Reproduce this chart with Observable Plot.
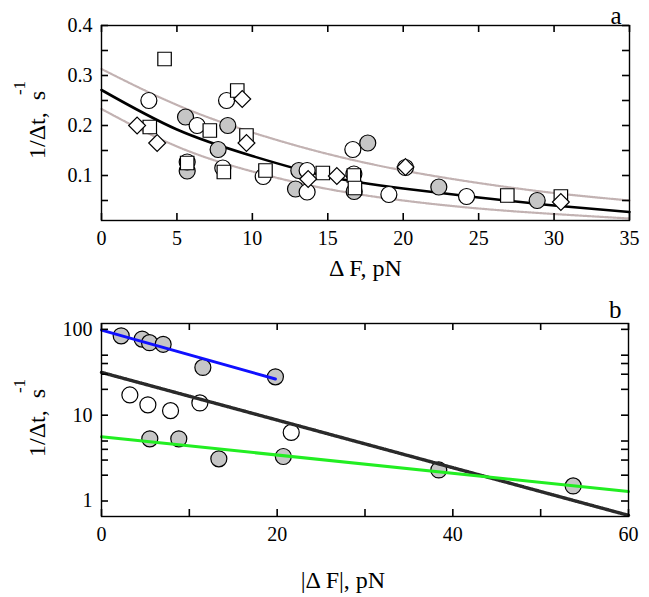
<!DOCTYPE html>
<html><head><meta charset="utf-8">
<script src="https://cdn.jsdelivr.net/npm/d3@7"></script>
<script src="https://cdn.jsdelivr.net/npm/@observablehq/plot@0.6"></script>
<style>body{margin:0;background:#fff} #chart svg{display:block}</style>
</head><body><div id="chart"></div>
<script>
// ---------- Panel a data ----------
const grayA_x = [5.57, 5.68, 8.37, 7.73, 13.08, 12.86, 17.65, 22.36, 28.88, 16.75];
const grayA_y = [0.217, 0.109, 0.200, 0.152, 0.110, 0.073, 0.165, 0.077, 0.050, 0.068];
const openA_x = [3.14, 6.34, 8.29, 8.04, 10.72, 13.63, 13.63, 16.66, 16.73, 19.05, 24.2, 5.68, 20.15];
const openA_y = [0.250, 0.200, 0.250, 0.115, 0.098, 0.110, 0.067, 0.152, 0.103, 0.062, 0.058, 0.127, 0.116];
const squareA_x = [4.18, 3.20, 7.18, 5.68, 9.00, 8.11, 9.61, 10.87, 14.67, 16.73, 16.80, 26.9, 30.45];
const squareA_y = [0.333, 0.197, 0.190, 0.125, 0.270, 0.107, 0.180, 0.110, 0.105, 0.100, 0.075, 0.060, 0.058];
const diamondA_x = [2.36, 3.69, 9.33, 9.61, 13.70, 15.6, 20.15, 30.45];
const diamondA_y = [0.200, 0.165, 0.253, 0.165, 0.093, 0.099, 0.117, 0.047];
const fitA_x = [0, 5, 10, 15, 20, 25, 30, 35];
const fitA_y = [0.271, 0.192, 0.139, 0.098, 0.074, 0.056, 0.040, 0.027];
const upperA_y = [0.313, 0.241, 0.186, 0.143, 0.110, 0.085, 0.065, 0.050];
const lowerA_y = [0.233, 0.158, 0.108, 0.073, 0.050, 0.034, 0.023, 0.014];
const xTicksA = [0, 5, 10, 15, 20, 25, 30, 35];
const yTicksA = [0.05, 0.1, 0.15, 0.2, 0.25, 0.3, 0.35, 0.4];
const yLabelsA = [0.1, 0.2, 0.3, 0.4];

// ---------- Panel b data ----------
const grayB_x = [2.24, 4.63, 5.47, 7.02, 11.54, 19.8, 5.5, 8.8, 13.36, 20.7, 38.4, 53.7];
const grayB_y = [84, 77, 70, 67, 36, 28, 5.3, 5.3, 3.1, 3.3, 2.3, 1.5];
const openB_x = [3.23, 5.28, 7.86, 11.2, 21.6];
const openB_y = [17.2, 13.2, 11.3, 13.9, 6.3];
const blueB_x = [0, 19.8];
const blueB_y = [98, 26.4];
const dotB_x = [0, 60];
const dotB_y = [31.5, 0.68];
const greenB_x = [0, 60];
const greenB_y = [5.6, 1.29];
const xTicksB = [0, 10, 20, 30, 40, 50, 60];
const xLabelsB = [0, 20, 40, 60];
const yTicksB = [1, 2, 3, 4, 5, 10, 20, 30, 40, 50, 100];
const yLabelsB = [1, 10, 100];

const pts = (xs, ys) => xs.map((x, i) => ({x, y: ys[i]}));
const FONT = "'Liberation Serif', 'Times New Roman', serif";
const dotStyle = {stroke: "black", strokeWidth: 1.2};
const TL = 7; // inward tick length in pixels

// inward ticks on all four sides, built with rules through the plot's own scales
function frameAxes(W, H, m, xDom, yDom, yLog, xTicks, xLabels, yTicks, yLabels, yFmt) {
  const iw = W - m.l - m.r, ih = H - m.t - m.b;
  const dx = (xDom[1] - xDom[0]) * TL / iw;
  const fy = yLog ? Math.pow(yDom[1] / yDom[0], TL / ih) : null;
  const dy = (yDom[1] - yDom[0]) * TL / ih;
  const yUp = v => yLog ? v * fy : v + dy;
  const yDn = v => yLog ? v / fy : v - dy;
  const tk = {stroke: "#000", strokeWidth: 1.6};
  return [
    Plot.frame({stroke: "black", strokeWidth: 1.4}),
    Plot.ruleX(xTicks, {x: d => d, y1: yDom[0], y2: yUp(yDom[0]), ...tk}),
    Plot.ruleX(xTicks, {x: d => d, y1: yDom[1], y2: yDn(yDom[1]), ...tk}),
    Plot.ruleY(yTicks, {y: d => d, x1: xDom[0], x2: xDom[0] + dx, ...tk}),
    Plot.ruleY(yTicks, {y: d => d, x1: xDom[1], x2: xDom[1] - dx, ...tk}),
    Plot.axisX(xLabels, {anchor: "bottom", tickSize: 0, tickPadding: 10, label: null, fontSize: 20}),
    Plot.axisY(yLabels, {anchor: "left", tickSize: 0, tickPadding: 9, tickFormat: yFmt, label: null, fontSize: 20})
  ];
}

function yLabel(yMid) {
  // main text and raised "-1", both rotated
  return [
    Plot.text(["1/Δt,\u00a0 s"], {frameAnchor: "left", dx: -64, dy: yMid + 36, rotate: -90, fontSize: 24, textAnchor: "start", lineAnchor: "middle", fontFamily: FONT}),
    Plot.text(["-1"], {frameAnchor: "left", dx: -82, dy: yMid - 35, rotate: -90, fontSize: 17, textAnchor: "middle", lineAnchor: "middle", fontFamily: FONT})
  ];
}

const mA = {l: 101, r: 20, t: 25, b: 80};
const xDomA = [0, 35], yDomA = [0.01, 0.4];
const plotA = Plot.plot({
  width: 649, height: 300,
  marginLeft: mA.l, marginRight: mA.r, marginTop: mA.t, marginBottom: mA.b,
  style: {fontFamily: FONT, fontSize: "20px", background: "white", color: "black", overflow: "visible"},
  x: {domain: xDomA, axis: null},
  y: {domain: yDomA, axis: null},
  marks: [
    Plot.line(pts(fitA_x, upperA_y), {x: "x", y: "y", curve: "natural", stroke: "#c2b2b2", strokeWidth: 2.2, strokeDasharray: "1.2,1.3"}),
    Plot.line(pts(fitA_x, lowerA_y), {x: "x", y: "y", curve: "natural", stroke: "#c2b2b2", strokeWidth: 2.2, strokeDasharray: "1.2,1.3"}),
    Plot.line(pts(fitA_x, fitA_y), {x: "x", y: "y", curve: "natural", stroke: "black", strokeWidth: 2.6}),
    Plot.dot(pts(grayA_x, grayA_y), {x: "x", y: "y", r: 8, fill: "#c6c6c6", ...dotStyle}),
    Plot.dot(pts(openA_x, openA_y), {x: "x", y: "y", r: 8, fill: "white", ...dotStyle}),
    Plot.dot(pts(squareA_x, squareA_y), {x: "x", y: "y", symbol: "square", r: 7.6, fill: "white", ...dotStyle}),
    Plot.dot(pts(diamondA_x, diamondA_y), {x: "x", y: "y", symbol: "diamond2", r: 7.6, fill: "white", ...dotStyle}),
    ...frameAxes(649, 300, mA, xDomA, yDomA, false, xTicksA, xTicksA, yTicksA, yLabelsA, d3.format(".1f")),
    Plot.text(["Δ F, pN"], {frameAnchor: "bottom", dy: 48, fontSize: 24, lineAnchor: "middle"}),
    ...yLabel(0),
    Plot.text(["a"], {frameAnchor: "top-right", dx: -8, dy: -2, fontSize: 25, textAnchor: "end", lineAnchor: "bottom"})
  ]
});

const mB = {l: 101, r: 21, t: 23, b: 81};
const xDomB = [0, 60], yDomB = [0.66, 117];
const plotB = Plot.plot({
  width: 649, height: 297,
  marginLeft: mB.l, marginRight: mB.r, marginTop: mB.t, marginBottom: mB.b,
  style: {fontFamily: FONT, fontSize: "20px", background: "white", color: "black", overflow: "visible"},
  x: {domain: xDomB, axis: null},
  y: {type: "log", domain: yDomB, axis: null},
  marks: [
    Plot.dot(pts(grayB_x, grayB_y), {x: "x", y: "y", r: 8, fill: "#c6c6c6", ...dotStyle}),
    Plot.dot(pts(openB_x, openB_y), {x: "x", y: "y", r: 8, fill: "white", ...dotStyle}),
    Plot.line(pts(dotB_x, dotB_y), {x: "x", y: "y", stroke: "#2a2a2a", strokeWidth: 3.4, strokeDasharray: "1.4,0.8"}),
    Plot.line(pts(greenB_x, greenB_y), {x: "x", y: "y", stroke: "#22ee22", strokeWidth: 3}),
    Plot.line(pts(blueB_x, blueB_y), {x: "x", y: "y", stroke: "#1010ff", strokeWidth: 3}),
    ...frameAxes(649, 297, mB, xDomB, yDomB, true, xTicksB, xLabelsB, yTicksB, yLabelsB, d3.format("d")),
    Plot.text(["|Δ F|, pN"], {frameAnchor: "bottom", dx: -22, dy: 64, fontSize: 24, lineAnchor: "middle"}),
    ...yLabel(1),
    Plot.text(["b"], {frameAnchor: "top-right", dx: -7, dy: -6, fontSize: 25, textAnchor: "end", lineAnchor: "bottom"})
  ]
});

const chart = document.getElementById("chart");
chart.appendChild(plotA);
chart.appendChild(plotB);
</script></body></html>
